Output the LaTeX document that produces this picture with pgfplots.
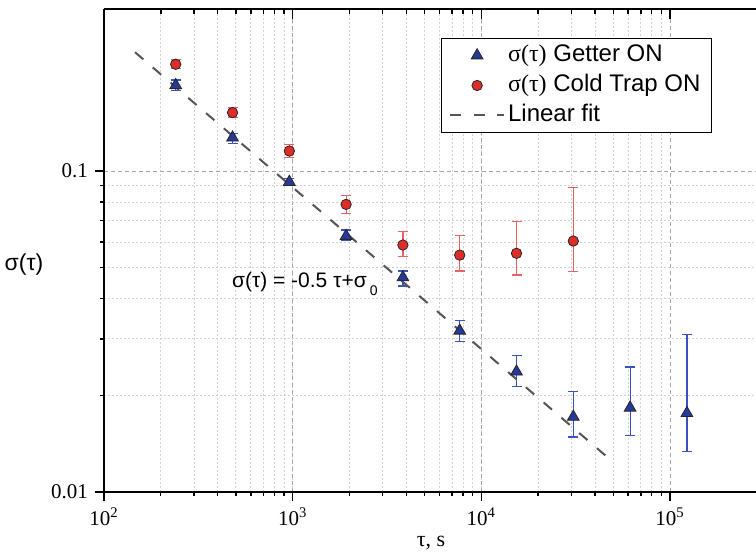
\documentclass[border=0pt]{standalone}
\usepackage{fontspec}
\setmainfont{Liberation Serif}
\newfontfamily\arial{Liberation Sans}
\usepackage{pgfplots}
\pgfplotsset{compat=1.18}
\usepackage{pgfplotstable}

\definecolor{mblue}{RGB}{38,57,150}
\definecolor{eblue}{RGB}{60,80,190}
\definecolor{mred}{RGB}{222,45,38}
\definecolor{ered}{RGB}{232,100,100}
\definecolor{fitgray}{RGB}{85,85,85}

\pgfplotstableread{
x y ep em
240 0.185 0.007 0.007
480 0.127 0.004 0.005
960 0.0924 0.0025 0.002
1920 0.0627 0.0028 0.002
3840 0.0466 0.0022 0.0028
7680 0.0318 0.0024 0.0023
15360 0.0237 0.0029 0.0024
30720 0.01714 0.0034 0.0023
61440 0.0183 0.0062 0.0033
122880 0.0176 0.0134 0.0042
}\getter

\pgfplotstableread{
x y ep em
240 0.215 0.007 0.007
480 0.152 0.006 0.005
960 0.1154 0.0054 0.0051
1920 0.0787 0.0051 0.0049
3840 0.0588 0.0059 0.0048
7680 0.0547 0.0082 0.0059
15360 0.0554 0.0141 0.008
30720 0.0605 0.0285 0.0119
}\coldtrap

\begin{document}
\begin{tikzpicture}
\begin{axis}[
  name=ax,
  scale only axis, width=326pt, height=241.5pt,
  xmode=log, ymode=log,
  xmin=100, xmax=2.856e5, ymin=0.01, ymax=0.3196,
  axis y line*=left, xtick pos=bottom,
  tick align=outside,
  major tick length=4.5pt, minor tick length=2pt,
  every tick/.style={black, line width=0.7pt},
  axis line style={line width=0.8pt},
  xtick={100,1000,10000,100000},
  xticklabels={10\textsuperscript{2},10\textsuperscript{3},10\textsuperscript{4},10\textsuperscript{5}},
  ytick={0.01,0.1}, yticklabels={0.01,0.1},
  ticklabel style={font=\fontsize{10.5}{12}\selectfont},
  grid=both,
  major grid style={gray!70, line width=0.4pt, dash pattern=on 2pt off 1.5pt},
  minor grid style={gray!35, line width=0.4pt, dash pattern=on 0.8pt off 1.2pt},
  xlabel={τ, s}, ylabel={{\arial σ(τ)}},
  every axis x label/.style={at={(axis description cs:0.5015,-0.1056)}, anchor=center, font=\fontsize{11}{13}\selectfont},
  every axis y label/.style={at={(axis description cs:-0.1227,0.47)}, anchor=center, font=\fontsize{11.5}{13}\selectfont},
  legend image code/.code={\draw[mark repeat=2,mark phase=2,#1] plot coordinates {(0pt,0pt) (13.5pt,0pt) (27pt,0pt)};},
  legend cell align=left,
  legend style={at={(axis description cs:1,1)}, anchor=north east, xshift=-22pt, yshift=-14.5pt,
    draw=black, line width=0.5pt, font=\arial\fontsize{12}{14}\selectfont,
    inner xsep=4pt, inner ysep=1pt, row sep=0pt,
    nodes={inner sep=1.5pt, text height=9pt, text depth=3pt}},
]
\addplot[only marks, mark=triangle*, mark size=3.4pt,
  mark options={fill=mblue, draw=black!85, line width=0.4pt},
  error bars/.cd, y dir=both, y explicit,
  error bar style={eblue, line width=0.6pt},
  error mark options={eblue, mark size=2.5pt, line width=0.6pt, rotate=90}]
  table[x=x, y=y, y error plus=ep, y error minus=em]{\getter};
\addlegendentry{{\rmfamily σ(τ)} Getter ON}
\addplot[only marks, mark=*, mark size=2.6pt,
  mark options={fill=mred, draw=black!85, line width=0.4pt},
  error bars/.cd, y dir=both, y explicit,
  error bar style={ered, line width=0.6pt},
  error mark options={ered, mark size=2.5pt, line width=0.6pt, rotate=90}]
  table[x=x, y=y, y error plus=ep, y error minus=em]{\coldtrap};
\addlegendentry{{\rmfamily σ(τ)} Cold Trap ON}
\addplot[fitgray, line width=1pt, dash pattern=on 5.5pt off 6.2pt] coordinates {(146,0.2344) (49900,0.0124)};
\addlegendentry{Linear fit}
\node[anchor=base west, font=\arial\fontsize{10.5}{12}\selectfont, inner sep=0pt] at (axis cs:475,0.0432)
  {σ(τ) = -0.5 τ+σ\kern1.5pt\raisebox{-4pt}{\fontsize{7}{7}\selectfont 0}};
\end{axis}
\begin{axis}[
  at={(ax.south west)}, anchor=south west,
  scale only axis, width=326pt, height=241.5pt,
  xmode=log, ymode=log,
  xmin=100, xmax=2.856e5, ymin=0.01, ymax=0.3196,
  axis x line*=top, axis y line=none,
  tick align=inside,
  major tick length=5pt, minor tick length=2.5pt,
  every tick/.style={black, line width=0.7pt},
  axis line style={line width=0.8pt},
  xtick={100,1000,10000,100000}, xticklabels={},
]
\addplot[draw=none] coordinates {(1000,0.1)};
\end{axis}
\pgfresetboundingbox
\path ([xshift=-52pt,yshift=-34pt]ax.south west) rectangle ([yshift=4.5pt]ax.north east);
\end{tikzpicture}
\end{document}
